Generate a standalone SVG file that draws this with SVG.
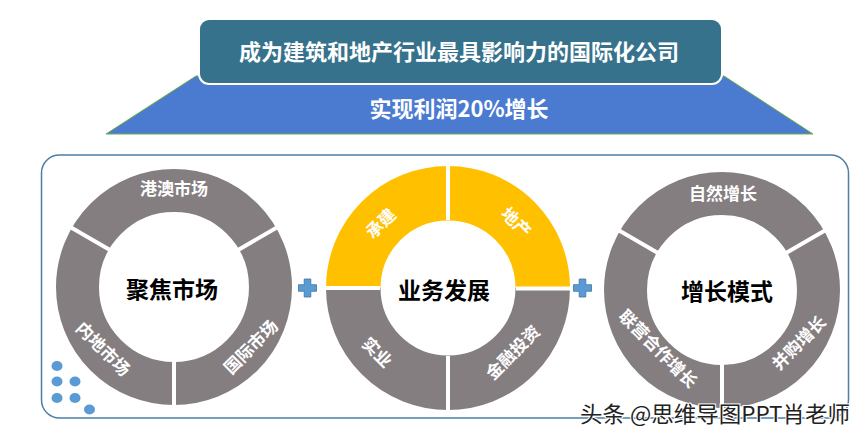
<svg xmlns="http://www.w3.org/2000/svg" xmlns:xlink="http://www.w3.org/1999/xlink" width="865" height="439" viewBox="0 0 865 439">
<style>
  .t { font-family: "Noto Sans CJK SC", "Noto Sans", sans-serif; font-weight: 700; text-anchor: middle; dominant-baseline: central; }
  .head { fill: #ffffff; font-size: 22px; }
  .seg { fill: #ffffff; font-size: 17px; }
  .core { fill: #000000; font-size: 23px; }
  .ring { fill: none; stroke: #857e81; }
  .gap { stroke: #ffffff; stroke-width: 4; }
  .dot { fill: #5b9bd5; }
  .plus { fill: #5b9bd5; stroke: #41719c; stroke-width: 0.8; }
  .wm { font-family: "Noto Sans CJK SC", "Noto Sans", sans-serif; font-size: 22px; fill: #222222; stroke: #ffffff; stroke-width: 2; paint-order: stroke; }
</style>
<defs>
  <path id="plusShape" d="M-3.3,-9 h6.6 v5.7 h5.7 v6.6 h-5.7 v5.7 h-6.6 v-5.7 h-5.7 v-6.6 h5.7 z"/>
</defs>
<rect width="865" height="439" fill="#ffffff"/>

<g id="goal-base">
  <polygon points="196,76 724,76 813,134 106,134" fill="#4a7bd0" stroke="#70ad47" stroke-width="1"/>
  <text class="t head" x="459" y="107">实现利润20%增长</text>
</g>
<g id="goal-top">
  <rect x="199" y="19" width="523" height="65" rx="10" fill="#36728c" stroke="#ffffff" stroke-width="2"/>
  <text class="t head" x="459" y="50">成为建筑和地产行业最具影响力的国际化公司</text>
</g>

<g id="frame">
  <rect x="41.5" y="155" width="807" height="263" rx="18" fill="none" stroke="#4b7fa5" stroke-width="1.5"/>
</g>

<g id="dots">
  <ellipse class="dot" cx="57" cy="366" rx="5.5" ry="5"/>
  <ellipse class="dot" cx="57" cy="381.5" rx="5.5" ry="5"/>
  <ellipse class="dot" cx="75" cy="381.5" rx="5.5" ry="5"/>
  <ellipse class="dot" cx="57" cy="398" rx="5.5" ry="5"/>
  <ellipse class="dot" cx="75" cy="398" rx="5.5" ry="5"/>
  <ellipse class="dot" cx="89.5" cy="409.5" rx="5.5" ry="5"/>
</g>

<g id="ring-market">
  <circle class="ring" cx="174" cy="287" r="96.5" stroke-width="43"/>
  <line class="gap" x1="234.6" y1="252" x2="281.2" y2="225"/>
  <line class="gap" x1="174" y1="357" x2="174" y2="410"/>
  <line class="gap" x1="113.4" y1="252" x2="66.8" y2="225"/>
  <text class="t seg" x="174" y="187">港澳市场</text>
  <text class="t seg" transform="translate(104,348) rotate(45)">内地市场</text>
  <text class="t seg" transform="translate(250,346) rotate(-45)">国际市场</text>
  <text class="t core" x="172" y="288">聚焦市场</text>
</g>

<g id="ring-business">
  <path d="M353.25,288 A94.75,94.75 0 0 1 542.75,288" fill="none" stroke="#ffc000" stroke-width="54.5"/>
  <path d="M542.75,288 A94.75,94.75 0 0 1 353.25,288" fill="none" stroke="#857e81" stroke-width="54.5"/>
  <line class="gap" x1="448" y1="220" x2="448" y2="164" stroke-width="3"/>
  <line class="gap" x1="448" y1="356" x2="448" y2="412" stroke-width="3"/>
  <line class="gap" x1="380" y1="288" x2="324" y2="288" stroke-width="3"/>
  <line class="gap" x1="516" y1="288.5" x2="572" y2="288.5" stroke-width="3"/>
  <text class="t seg" transform="translate(380,222.5) rotate(-45)">承建</text>
  <text class="t seg" transform="translate(517,221.5) rotate(45)">地产</text>
  <text class="t seg" transform="translate(378,351.5) rotate(45)">实业</text>
  <text class="t seg" transform="translate(512,351.5) rotate(-45)">金融投资</text>
  <text class="t core" x="444" y="289">业务发展</text>
</g>

<g id="ring-growth">
  <circle class="ring" cx="722" cy="290" r="96.5" stroke-width="43"/>
  <line class="gap" x1="782.6" y1="255" x2="829.2" y2="228"/>
  <line class="gap" x1="722" y1="360" x2="722" y2="413"/>
  <line class="gap" x1="661.4" y1="255" x2="614.8" y2="228"/>
  <text class="t seg" x="723" y="192">自然增长</text>
  <text class="t seg" transform="translate(659,348) rotate(45)">联营合作增长</text>
  <text class="t seg" transform="translate(798,342) rotate(-45)">并购增长</text>
  <text class="t core" x="727" y="290">增长模式</text>
</g>

<g id="connectors">
  <use href="#plusShape" xlink:href="#plusShape" class="plus" transform="translate(307.5,288)"/>
  <use href="#plusShape" xlink:href="#plusShape" class="plus" transform="translate(582.5,288)"/>
</g>

<text class="wm" x="580" y="422" textLength="270" lengthAdjust="spacingAndGlyphs">头条 @思维导图PPT肖老师</text>
</svg>
